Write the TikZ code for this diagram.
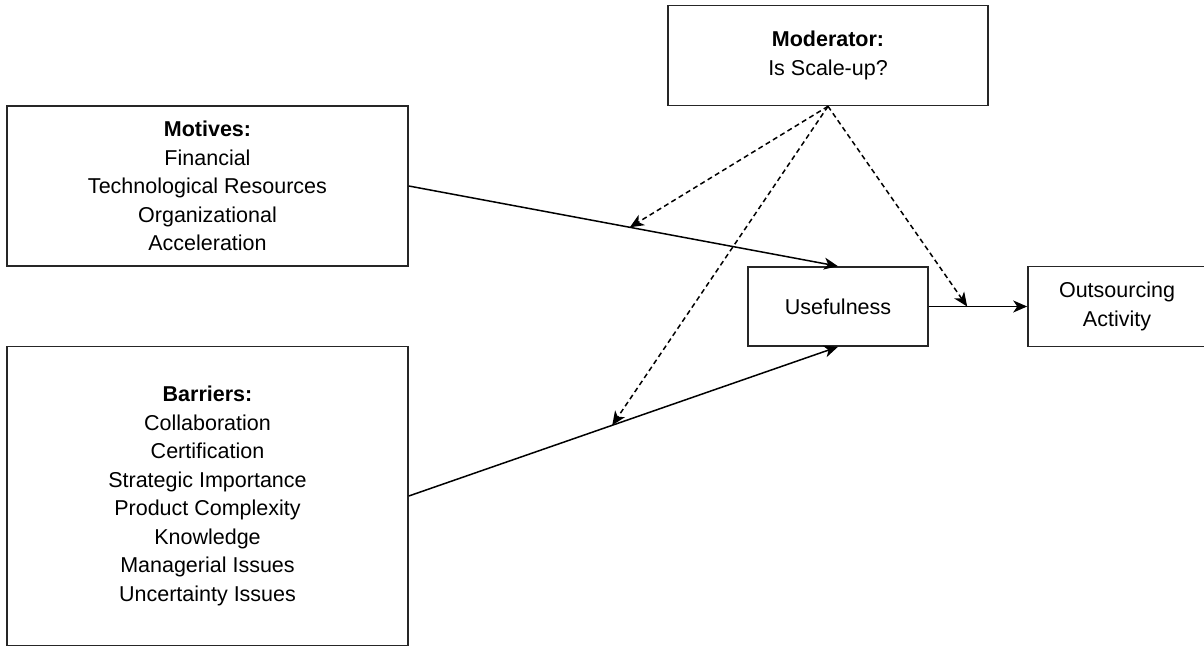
\documentclass[tikz,border=0pt]{standalone}
\usepackage{fontspec}
\setmainfont{Liberation Sans}
\usetikzlibrary{arrows.meta}
\begin{document}
\begin{tikzpicture}[x=1pt,y=-1pt,
  box/.style={draw, line width=1.6pt, draw=black!85, rectangle, inner sep=0pt, align=center,
    font=\fontsize{21.5}{28.5}\selectfont},
  arr/.style={line width=1.5pt, -{Stealth[length=14pt,width=12pt,inset=4pt]}},
  darr/.style={arr, dash pattern=on 5pt off 3.5pt}]
\clip (0,0) rectangle (1204,647);
\node[box, minimum width=401pt, minimum height=160pt] (motives) at (207.5,186)
  {\textbf{Motives:}\\Financial\\Technological Resources\\Organizational\\Acceleration};
\node[box, minimum width=401pt, minimum height=299pt] (barriers) at (207.5,496)
  {\textbf{Barriers:}\\Collaboration\\Certification\\Strategic Importance\\Product Complexity\\Knowledge\\Managerial Issues\\Uncertainty Issues};
\node[box, minimum width=320pt, minimum height=100pt] (moderator) at (828,55.5)
  {\textbf{Moderator:}\\Is Scale-up?};
\node[box, minimum width=180pt, minimum height=79pt] (use) at (838,306.5)
  {Usefulness};
\node[box, minimum width=178pt, minimum height=80pt] (out) at (1117,306.5)
  {Outsourcing\\Activity};
\draw[arr] (motives.east) -- coordinate[pos=0.515] (m1) (use.north);
\draw[arr] (barriers.east) -- coordinate[pos=0.474] (m2) (use.south);
\draw[arr] (use.east) -- coordinate[pos=0.39] (m3) (out.west);
\draw[darr] (moderator.south) -- (m1);
\draw[darr] (moderator.south) -- (m2);
\draw[darr] (moderator.south) -- (m3);
\end{tikzpicture}
\end{document}
